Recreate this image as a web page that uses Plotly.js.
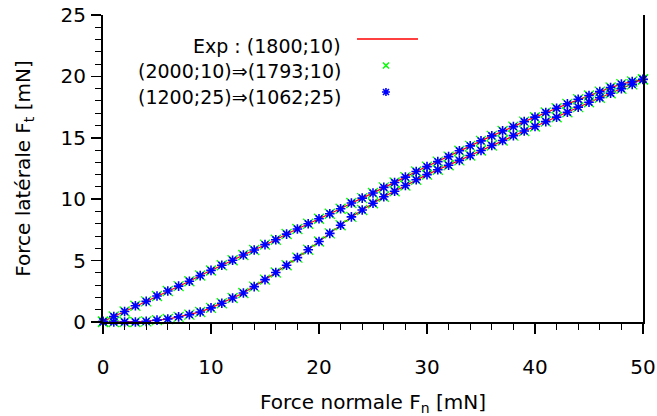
<!DOCTYPE html>
<html>
<head>
<meta charset="utf-8">
<script src="https://cdn.plot.ly/plotly-3.0.1.min.js"></script>
<style>html,body{margin:0;padding:0;background:#fff;}#chart{width:657px;height:416px;}</style>
</head>
<body>
<div id="chart"></div>
<script>
// Normal force [mN] sampled along both branches
const forceN = [0,1,2,3,4,5,6,7,8,9,10,11,12,13,14,15,16,17,18,19,20,21,22,23,24,25,
  26,27,28,29,30,31,32,33,34,35,36,37,38,39,40,41,42,43,44,45,46,47,48,49,50];
// Lateral force on loading (lower branch) [mN]
const loadFt = [0,0,0,0,0.05,0.15,0.24,0.42,0.6,0.82,1.15,1.53,1.95,2.36,2.88,3.45,4.03,4.62,5.24,5.88,
  6.55,7.22,7.88,8.56,9.12,9.67,10.2,10.65,11.12,11.58,12.0,12.4,12.76,13.16,13.56,13.97,14.37,14.78,
  15.18,15.55,15.92,16.32,16.68,17.08,17.5,17.9,18.26,18.63,19.0,19.35,19.75];
// Lateral force on unloading (upper branch) [mN]
const unloadFt = [0.05,0.45,0.86,1.32,1.68,2.12,2.52,2.92,3.32,3.78,4.2,4.62,5.03,5.45,5.86,6.3,6.7,7.16,
  7.57,8.0,8.41,8.82,9.22,9.69,10.09,10.5,10.96,11.36,11.8,12.25,12.65,13.06,13.47,13.94,14.34,14.75,
  15.16,15.56,15.91,16.32,16.68,17.06,17.41,17.76,18.14,18.44,18.76,19.09,19.37,19.58,19.77];
const seriesNames = ["Exp : (1800;10)", "(2000;10)\u21d2(1793;10)", "(1200;25)\u21d2(1062;25)"];
const xTitle = "Force normale F<sub>n</sub> [mN]";
const yTitle = "Force latérale F<sub>t</sub> [mN]";

// closed loop: loading then unloading
const loopX = forceN.concat(forceN.slice().reverse());
const loopY = loadFt.concat(unloadFt.slice().reverse());

const FONT = "DejaVu Sans, Verdana, sans-serif";
const traces = [
  {x: loopX, y: loopY, mode: "lines", name: seriesNames[0],
   line: {color: "#ff0000", width: 1.2}, cliponaxis: false},
  {x: loopX, y: loopY, mode: "markers", name: seriesNames[1], cliponaxis: false,
   marker: {symbol: "x-thin-open", size: 10, color: "#00ff00", line: {color: "#00ff00", width: 1.3}}},
  {x: loopX, y: loopY, mode: "markers", name: seriesNames[2], cliponaxis: false,
   marker: {symbol: "asterisk-open", size: 8, color: "#0000ff", line: {color: "#0000ff", width: 1.6}}}
];

// manual legend (text left of sample, gnuplot style)
const legTextX = 0.4444, legTextY = [0.899, 0.819, 0.733];
const annotations = seriesNames.map((n, i) => ({
  xref: "paper", yref: "paper", x: legTextX, y: legTextY[i], xanchor: "right", yanchor: "middle",
  text: n, showarrow: false, font: {family: FONT, size: 19, color: "#000"}
}));
const shapes = [
  {type: "line", xref: "paper", yref: "paper", x0: 0.4704, x1: 0.5833, y0: 0.9218, y1: 0.9218,
   line: {color: "#ff0000", width: 1.5}},
  {type: "path", xref: "paper", yref: "paper", xsizemode: "pixel", ysizemode: "pixel",
   xanchor: 0.524, yanchor: 0.8355, path: "M-3,-3L3,3M-3,3L3,-3", line: {color: "#00ff00", width: 1.5}},
  {type: "path", xref: "paper", yref: "paper", xsizemode: "pixel", ysizemode: "pixel",
   xanchor: 0.524, yanchor: 0.749, path: "M-3,-3L3,3M-3,3L3,-3M-4,0L4,0M0,-4L0,4", line: {color: "#0000ff", width: 1.6}}
];

const layout = {
  width: 657, height: 416,
  margin: {l: 103, r: 14, t: 15, b: 94},
  paper_bgcolor: "#fff", plot_bgcolor: "#fff",
  showlegend: false,
  font: {family: FONT, size: 19, color: "#000"},
  xaxis: {range: [0, 50], dtick: 10, tick0: 0, showgrid: false, zeroline: false,
    showline: true, linecolor: "#000", linewidth: 2, mirror: false,
    ticks: "outside", ticklen: 10, tickwidth: 1.5, tickcolor: "#000", ticklabelstandoff: 16,
    minor: {dtick: 2, ticks: "outside", ticklen: 6, tickwidth: 1, tickcolor: "#000"},
    title: {text: xTitle, font: {family: FONT, size: 20}, standoff: 20},
    tickfont: {family: FONT, size: 20}},
  yaxis: {range: [0, 25], dtick: 5, tick0: 0, showgrid: false, zeroline: false,
    showline: true, linecolor: "#000", linewidth: 2, mirror: true,
    ticks: "outside", ticklen: 10, tickwidth: 1.5, tickcolor: "#000", ticklabelstandoff: 1,
    minor: {dtick: 1, ticks: "outside", ticklen: 6, tickwidth: 1, tickcolor: "#000"},
    title: {text: yTitle, font: {family: FONT, size: 20}, standoff: 25},
    tickfont: {family: FONT, size: 20}},
  annotations: annotations,
  shapes: shapes
};

Plotly.newPlot("chart", traces, layout, {displayModeBar: false, staticPlot: true});
</script>
</body>
</html>
